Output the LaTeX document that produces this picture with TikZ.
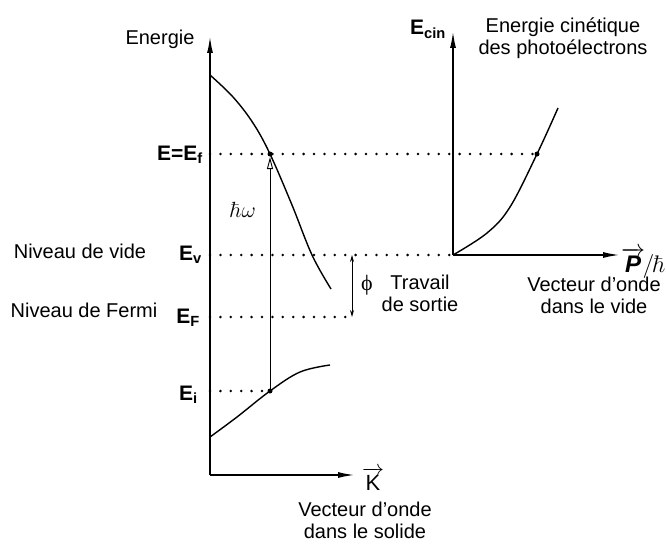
\documentclass[tikz,border=0pt]{standalone}
\usepackage{fix-cm}
\usepackage[no-math]{fontspec}
\setmainfont{Liberation Sans}
\newfontfamily\phifont{Liberation Serif}
\usetikzlibrary{arrows.meta}

\begin{document}
\begin{tikzpicture}[x=1pt, y=-1pt, >=Latex,
  font=\fontsize{20}{21.5}\selectfont,
  axis/.style={line width=1.8pt, -{Latex[length=17pt,width=6pt]}},
  level/.style={line width=2.8pt, line cap=round, dash pattern=on 0pt off 10.4pt},
  band/.style={line width=1.4pt},
  dot/.style={circle, fill, inner sep=0pt, minimum size=5pt},
  lab/.style={anchor=base, inner sep=0pt},
  elab/.style={anchor=base east, inner sep=0pt, font=\fontsize{21}{24}\selectfont\bfseries},
  note/.style={anchor=north, inner sep=0pt, align=center}]
  \useasboundingbox (0,0) rectangle (666,543);

  % Left panel: bands of the solid along the wave vector
  \coordinate (O) at (210,475);
  \coordinate (Etop) at (210,36);
  \coordinate (Kend) at (355,475);
  \draw[axis] (O) -- (Etop);
  \draw[axis] (O) -- (Kend);

  \draw[band] plot[smooth, tension=0.6] coordinates
    {(210,75) (233,97) (253,123) (270,154) (292,205) (312,255) (331,289)};
  \draw[band] plot[smooth, tension=0.6] coordinates
    {(210,437) (237,417) (270,391) (300,372) (330,365)};

  \coordinate (Ef0) at (210,154);
  \coordinate (Ev0) at (210,255);
  \coordinate (EF0) at (210,317);
  \coordinate (Ei0) at (210,391);
  \node[dot] (fin) at (270,154) {};
  \node[dot] (ini) at (270,391) {};
  \coordinate (hwtip) at (270,157);

  % Right panel: kinetic energy of the emitted electrons
  \coordinate (O2) at (453,255);
  \coordinate (Ctop) at (453,31);
  \coordinate (Pend) at (620,255);
  \draw[axis] (O2) -- (Ctop);
  \draw[axis] (O2) -- (Pend);
  \draw[band] plot[smooth, tension=0.6] coordinates
    {(453,255) (487,233) (510,207) (537,154) (558,108)};
  \node[dot] (cin) at (537,154) {};

  % levels
  \draw[level] (Ef0) -- (cin.center);
  \draw[level] (Ev0) -- (O2);
  \coordinate (phiA) at (352,255);
  \coordinate (phiB) at (352,317);
  \draw[level] (EF0) -- (phiB);
  \draw[level] (Ei0) -- (ini.center);

  \draw[line width=0.9pt, -{Triangle[open,length=12pt,width=6pt]}] (ini.center) -- (hwtip);
  \draw[line width=0.9pt, {Stealth[length=7pt,width=4pt]}-{Stealth[length=7pt,width=4pt]}] (phiA) -- (phiB);

  % labels
  \node[lab] (energie) at (160,45) {Energie};
  \node[elab] (lEf) at (203,160) {E=E\textsubscript{f}};
  \node[lab] (vide) at (80,258) {Niveau de vide};
  \node[elab] (lEv) at (202,260) {E\textsubscript{v}};
  \node[lab] (fermi) at (84,317) {Niveau de Fermi};
  \node[elab] (lEF) at (200,323) {E\textsubscript{F}};
  \node[elab] (lEi) at (198,400) {E\textsubscript{i}};
  \node[inner sep=0pt, font=\fontsize{22}{24}\selectfont] (hw) at (243,210) {$\hbar\omega$};
  \node[inner sep=0pt, font=\fontsize{22}{24}\selectfont\phifont] (phi) at (367,285) {ϕ};
  \node[note] (travail) at (420,275) {Travail\\de sortie};
  \node[elab, anchor=base west] (lEcin) at (410,35) {E\textsubscript{cin}};
  \node[note] (ecin) at (563,18) {Energie cinétique\\des photoélectrons};
  \node[anchor=base west, inner sep=0pt, font=\fontsize{24}{28}\selectfont] (lP) at (621,272)
    {$\overrightarrow{\textbf{\textit{P}}}\mkern-2mu/\mkern-1mu\hbar$};
  \node[note] (vvide) at (594,277) {Vecteur d'onde\\dans le vide};
  \node[anchor=base, inner sep=0pt, font=\fontsize{22}{24}\selectfont] (lK) at (373,490)
    {$\overrightarrow{\mbox{K}}$};
  \node[note] (vsolide) at (365,502) {Vecteur d'onde\\dans le solide};
\end{tikzpicture}
\end{document}
